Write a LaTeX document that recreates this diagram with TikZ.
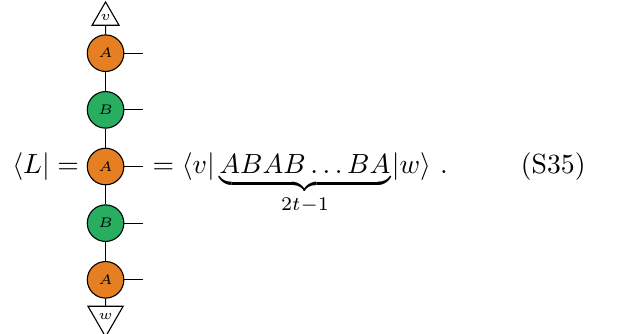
\documentclass[tikz,border=0pt]{standalone}
\usepackage{amsmath}
\usetikzlibrary{shapes.geometric}
\definecolor{orA}{RGB}{230,126,34}
\definecolor{grB}{RGB}{39,174,96}
\begin{document}
\begin{tikzpicture}[x=1pt,y=1pt,
  tens/.style={circle,draw,line width=0.4pt,minimum size=13.2pt,inner sep=0pt,font=\tiny},
  tA/.style={tens,fill=orA},
  tB/.style={tens,fill=grB},
  bnd/.style={regular polygon,regular polygon sides=3,draw,line width=0.4pt,fill=white,minimum size=11.2pt,inner sep=0pt,font=\tiny},
  leg/.style={line width=0.4pt}]
\useasboundingbox (0,0) rectangle (224.5,-120.2);
\node[bnd] (v) at (38.1,-6.3) {$v$};
\node[tA] (A1) at (38.1,-19.2) {$A$};
\node[tB] (B1) at (38.1,-39.65) {$B$};
\node[tA] (A2) at (38.1,-60.1) {$A$};
\node[tB] (B2) at (38.1,-80.55) {$B$};
\node[tA] (A3) at (38.1,-101.0) {$A$};
\node[bnd,shape border rotate=180] (w) at (38.1,-114.2) {$w$};
\draw[leg] (v) -- (A1);
\draw[leg] (A1) -- (B1);
\draw[leg] (B1) -- (A2);
\draw[leg] (A2) -- (B2);
\draw[leg] (B2) -- (A3);
\draw[leg] (A3) -- (w);
\coordinate (e1) at (51.6,-19.2);
\coordinate (e2) at (51.6,-39.65);
\coordinate (e3) at (51.6,-60.1);
\coordinate (e4) at (51.6,-80.55);
\coordinate (e5) at (51.6,-101.0);
\draw[leg] (A1.east) -- (e1);
\draw[leg] (B1.east) -- (e2);
\draw[leg] (A2.east) -- (e3);
\draw[leg] (B2.east) -- (e4);
\draw[leg] (A3.east) -- (e5);
\node[anchor=base east,inner sep=0pt] (lhs) at (28.7,-62.6) {$\langle L| =$};
\node[anchor=base west,inner sep=0pt] (rhs) at (54.9,-62.6) {$= \langle v|\,{\underbrace{ABAB\ldots BA}_{2t-1}}\hspace{0.5pt}|w\rangle\ .$};
\node[anchor=base west,inner sep=0pt] (eq) at (187.8,-62.6) {(S35)};
\end{tikzpicture}
\end{document}
